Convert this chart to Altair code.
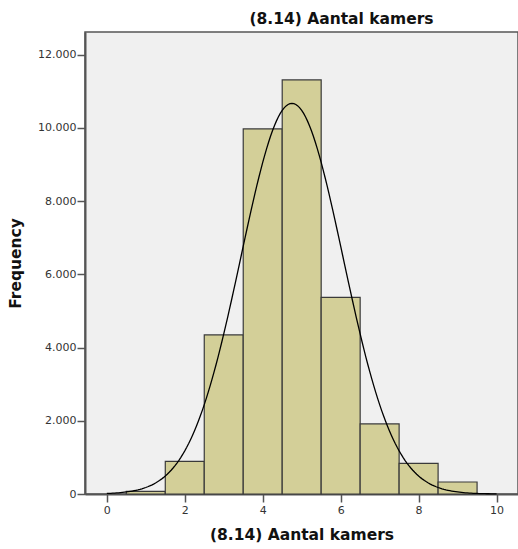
import altair as alt
import pandas as pd

# Histogram data
rooms = [1, 2, 3, 4, 5, 6, 7, 8, 9]
freq = [70, 893, 4344, 9973, 11311, 5370, 1913, 839, 328]

# Fitted normal curve parameters (as SPSS draws it)
curve_mean = 4.75
curve_sd = 1.31
curve_n = 35041

x_ticks = [0, 2, 4, 6, 8, 10]
y_ticks = [0, 2000, 4000, 6000, 8000, 10000, 12000]

bars_df = pd.DataFrame({"rooms": rooms, "freq": freq})

FONT = "DejaVu Sans"
xscale = alt.Scale(domain=[-0.56, 10.55], nice=False, zero=False)
yscale = alt.Scale(domain=[0, 12620], nice=False)

bars = (
    alt.Chart(bars_df)
    .transform_calculate(lo="datum.rooms - 0.5", hi="datum.rooms + 0.5")
    .mark_rect(color="#d3cf98", stroke="#3a3a3a", strokeWidth=1.2)
    .encode(
        x=alt.X(
            "lo:Q",
            scale=xscale,
            axis=alt.Axis(
                values=x_ticks,
                title="(8.14) Aantal kamers",
                labelPadding=2,
                titlePadding=12,
            ),
        ),
        x2="hi:Q",
        y=alt.Y(
            "freq:Q",
            scale=yscale,
            axis=alt.Axis(
                values=y_ticks,
                title="Frequency",
                labelExpr="replace(format(datum.value, ','), ',', '.')",
                labelPadding=1,
                titlePadding=14,
            ),
        ),
        y2=alt.datum(0),
    )
)

curve = (
    alt.Chart(alt.sequence(0, 10.001, 0.05, as_="x"))
    .transform_calculate(
        y=f"{curve_n} * exp(-0.5 * pow((datum.x - {curve_mean}) / {curve_sd}, 2)) / ({curve_sd} * sqrt(2 * PI))"
    )
    .mark_line(color="black", strokeWidth=1.3)
    .encode(x=alt.X("x:Q", scale=xscale), y=alt.Y("y:Q", scale=yscale))
)

chart = (
    alt.layer(bars, curve)
    .properties(
        width=433,
        height=462,
        title=alt.TitleParams(
            "(8.14) Aantal kamers",
            font=FONT,
            fontSize=15.5,
            fontWeight="bold",
            color="#111",
            offset=5,
            dx=40,
        ),
        autosize=alt.AutoSizeParams(type="none"),
        padding={"left": 85, "top": 32, "right": 0, "bottom": 55},
    )
    .configure(background="white")
    .configure_view(fill="#f0f0f0", stroke="#555", strokeWidth=1.5)
    .configure_axis(
        grid=False,
        labelFont=FONT,
        labelFontSize=11,
        labelColor="#333",
        tickColor="#555",
        tickSize=8,
        tickWidth=1.5,
        domainColor="#555",
        domainWidth=2,
        titleFont=FONT,
        titleFontSize=15.5,
        titleFontWeight="bold",
        titleColor="#111",
    )
)

chart.save("out.html", embed_options={"renderer": "svg", "actions": False})
